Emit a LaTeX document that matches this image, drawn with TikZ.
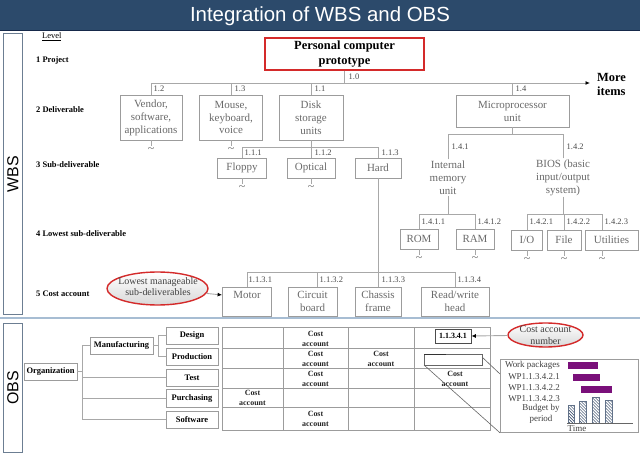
\documentclass[tikz,border=0pt]{standalone}
\usepackage{fontspec}
\setmainfont{Liberation Serif}
\newfontfamily\sansf{Liberation Sans}
\usetikzlibrary{shapes.geometric,arrows.meta,patterns}
\definecolor{titlebg}{HTML}{2C4A6B}
\definecolor{titleline}{HTML}{16294A}
\definecolor{sepblue}{HTML}{A7BDD3}
\definecolor{framecol}{HTML}{6C7E92}
\definecolor{boxgray}{HTML}{9C9C9C}
\definecolor{txtgray}{HTML}{6A6A6A}
\definecolor{linegray}{HTML}{A8A8A8}
\definecolor{lblcol}{HTML}{4A4A4A}
\definecolor{redc}{HTML}{D42A2A}
\definecolor{purp}{HTML}{7A107A}
\definecolor{hatchc}{HTML}{1F3556}
\newcommand\mytilde[2]{\draw[conn] (#1) -- ++(0,6) node[tildest, anchor=center, yshift=-4bp] (#2) {\textasciitilde};}
\begin{document}
\begin{tikzpicture}[x=1bp,y=-1bp,
  wbox/.style={draw=boxgray, line width=0.8bp, text=txtgray, font=\fontsize{11}{13}\selectfont, align=center, inner sep=0},
  lbl/.style={font=\fontsize{8.5}{10}\selectfont, text=lblcol, inner sep=0.5bp, anchor=west},
  lvl/.style={font=\bfseries\fontsize{8.5}{10}\selectfont, anchor=west, inner sep=0},
  conn/.style={draw=linegray, line width=0.9bp},
  tildest/.style={font=\fontsize{12}{12}\selectfont, text=txtgray, inner sep=0},
  tipa/.style={-{Latex[length=4.5bp,width=4bp,color=black]}},
  obox/.style={draw=boxgray, line width=0.8bp, font=\bfseries\fontsize{8.5}{10}\selectfont, inner sep=0, minimum height=17bp},
  ca/.style={font=\bfseries\fontsize{8}{10}\selectfont, align=center, inner sep=0, text=black!85},
  inl/.style={font=\fontsize{9}{11}\selectfont, text=black!75, inner sep=0},
  gridc/.style={draw=boxgray, line width=0.8bp},
  hatchbar/.style={pattern=north west lines, pattern color=hatchc, draw=hatchc!70, line width=0.5bp}
]
\useasboundingbox (0,0) rectangle (640,454);
\fill[white] (0,0) rectangle (640,454);
% title
\node[fill=titlebg, minimum width=640bp, minimum height=30bp, inner sep=0, anchor=north west] (titlebar) at (0,0) {};
\draw[titleline, line width=1.5bp] (titlebar.south west) -- (titlebar.south east);
\node[font=\sansf\fontsize{20.5}{24}\selectfont, text=white, anchor=base, inner sep=0] (title) at (320,21.5) {Integration of WBS and OBS};
% side frames
\node[draw=framecol, line width=0.9bp, minimum width=19bp, minimum height=281bp, inner sep=0, anchor=north west] (wbsframe) at (3,33) {};
\node[rotate=90, font=\sansf\fontsize{16}{18}\selectfont, inner sep=0] (wbstext) at (wbsframe.center) {WBS};
\node[draw=framecol, line width=0.9bp, minimum width=19bp, minimum height=129bp, inner sep=0, anchor=north west] (obsframe) at (3,323) {};
\node[rotate=90, font=\sansf\fontsize{16}{18}\selectfont, inner sep=0] (obstext) at (obsframe.center) {OBS};
\draw[sepblue, line width=2bp] (0,318) -- (640,318);
% level labels
\node[font=\fontsize{8.5}{10}\selectfont, anchor=west, inner sep=0] (lev) at (42,37) {\underline{Level}};
\node[lvl] (lv1) at (36,60) {1 Project};
\node[lvl] (lv2) at (36,110) {2 Deliverable};
\node[lvl] (lv3) at (36,165) {3 Sub-deliverable};
\node[lvl] (lv4) at (36,234) {4 Lowest sub-deliverable};
\node[lvl] (lv5) at (36,294) {5 Cost account};
% root
\node[draw=redc, line width=1.4bp, minimum width=159bp, minimum height=32bp, align=center, inner sep=0, font=\bfseries\fontsize{12.5}{15}\selectfont] (root) at (344.5,54) {Personal computer\\prototype};
% level 2
\node[wbox, minimum width=62bp, minimum height=45bp] (vendor) at (151,117.5) {Vendor,\\software,\\applications};
\node[wbox, minimum width=63bp, minimum height=45bp] (mouse) at (231,117.5) {Mouse,\\keyboard,\\voice};
\node[wbox, minimum width=64bp, minimum height=45bp] (disk) at (311,117.5) {Disk\\storage\\units};
\node[wbox, minimum width=113bp, minimum height=32bp] (micro) at (512.5,111) {Microprocessor\\unit};
\node[font=\bfseries\fontsize{12.5}{15}\selectfont, align=left, anchor=west, inner sep=0] (more) at (597,84.5) {More\\items};
\coordinate (moreend) at (590,83);
\draw[conn] (root.south) -- (root.south |- moreend);
\draw[conn, tipa] (vendor.north |- moreend) -- (moreend);
\draw[conn] (vendor.north) -- (vendor.north |- moreend);
\draw[conn] (mouse.north) -- (mouse.north |- moreend);
\draw[conn] (disk.north) -- (disk.north |- moreend);
\draw[conn] (micro.north) -- (micro.north |- moreend);
\node[lbl] (l10) at (348,77) {1.0};
\node[lbl] (l12) at (153,89) {1.2};
\node[lbl] (l13) at (234,89) {1.3};
\node[lbl] (l11) at (314,89) {1.1};
\node[lbl] (l14) at (515,89) {1.4};
\mytilde{vendor.south}{tv}
\mytilde{mouse.south}{tm}
% level 3 disk
\node[wbox, minimum width=49bp, minimum height=20bp] (floppy) at (242,168) {Floppy};
\node[wbox, minimum width=48bp, minimum height=20bp] (optical) at (311,168) {Optical};
\node[wbox, minimum width=46bp, minimum height=20bp] (hard) at (378,168) {Hard};
\coordinate (dbus) at (0,147);
\draw[conn] (disk.south) -- (optical.north);
\draw[conn] (floppy.north |- dbus) -- (hard.north |- dbus);
\draw[conn] (floppy.north) -- (floppy.north |- dbus);
\draw[conn] (hard.north) -- (hard.north |- dbus);
\node[lbl] (l111) at (244,153) {1.1.1};
\node[lbl] (l112) at (314,153) {1.1.2};
\node[lbl] (l113) at (381,153) {1.1.3};
\mytilde{floppy.south}{tf}
\mytilde{optical.south}{to}
% level 3 micro
\node[text=txtgray, font=\fontsize{11}{13}\selectfont, align=center, inner sep=1bp] (intmem) at (448,177.5) {Internal\\memory\\unit};
\node[text=txtgray, font=\fontsize{11}{13}\selectfont, align=center, inner sep=1bp] (bios) at (563,177.5) {BIOS (basic\\input/output\\system)};
\coordinate (mbus) at (0,134);
\draw[conn] (micro.south) -- (micro.south |- mbus);
\draw[conn] (intmem.north |- mbus) -- (bios.north |- mbus);
\draw[conn] (intmem.north) -- (intmem.north |- mbus);
\draw[conn] (bios.north) -- (bios.north |- mbus);
\node[lbl] (l141) at (451,147) {1.4.1};
\node[lbl] (l142) at (566,147) {1.4.2};
% level 4
\node[wbox, minimum width=38bp, minimum height=20bp] (rom) at (419,239) {ROM};
\node[wbox, minimum width=38bp, minimum height=20bp] (ram) at (475,239) {RAM};
\node[wbox, minimum width=31bp, minimum height=20bp] (io) at (527,240) {I/O};
\node[wbox, minimum width=34bp, minimum height=20bp] (file) at (564,240) {File};
\node[wbox, minimum width=53bp, minimum height=20bp] (util) at (611.5,240) {Utilities};
\coordinate (ibus) at (0,214);
\draw[conn] (intmem.south) -- (intmem.south |- ibus);
\draw[conn] (rom.north |- ibus) -- (ram.north |- ibus);
\draw[conn] (rom.north) -- (rom.north |- ibus);
\draw[conn] (ram.north) -- (ram.north |- ibus);
\draw[conn] (bios.south) -- (bios.south |- ibus);
\draw[conn] (io.north |- ibus) -- ([xshift=-9.5bp]util.north |- ibus);
\draw[conn] (io.north) -- (io.north |- ibus);
\draw[conn] (file.north) -- (file.north |- ibus);
\draw[conn] ([xshift=-9.5bp]util.north) -- ([xshift=-9.5bp]util.north |- ibus);
\node[lbl] (l1411) at (421,222) {1.4.1.1};
\node[lbl] (l1412) at (477,222) {1.4.1.2};
\node[lbl] (l1421) at (529,222) {1.4.2.1};
\node[lbl] (l1422) at (566,222) {1.4.2.2};
\node[lbl] (l1423) at (604,222) {1.4.2.3};
\mytilde{rom.south}{tr1}
\mytilde{ram.south}{tr2}
\mytilde{io.south}{ti}
\mytilde{file.south}{tfi}
\mytilde{[xshift=-9.5bp]util.south}{tu}
% level 5
\node[wbox, minimum width=49bp, minimum height=29bp] (motor) at (247,301.5) {Motor\\\mbox{}};
\node[wbox, minimum width=49bp, minimum height=29bp] (circuit) at (312.5,301.5) {Circuit\\board};
\node[wbox, minimum width=46bp, minimum height=29bp] (chassis) at (378,301.5) {Chassis\\frame};
\node[wbox, minimum width=68bp, minimum height=29bp] (rw) at (455,301.5) {Read/write\\head};
\coordinate (cbus) at (0,272);
\draw[conn] (hard.south) -- (chassis.north);
\draw[conn] (motor.north |- cbus) -- (rw.north |- cbus);
\draw[conn] (motor.north) -- (motor.north |- cbus);
\draw[conn] ([xshift=4.5bp]circuit.north) -- ([xshift=4.5bp]circuit.north |- cbus);
\draw[conn] (rw.north) -- (rw.north |- cbus);
\node[lbl] (l1131) at (248,280) {1.1.3.1};
\node[lbl] (l1132) at (319,280) {1.1.3.2};
\node[lbl] (l1133) at (381,280) {1.1.3.3};
\node[lbl] (l1134) at (457,280) {1.1.3.4};
% ellipse lowest manageable
\node[ellipse, draw=redc, line width=1.4bp, top color=white, bottom color=gray!30, minimum width=101bp, minimum height=33bp, inner sep=0] (lowell) at (157.5,288.5) {};
\node[font=\fontsize{10}{11}\selectfont, text=black!75, align=center, inner sep=0] (lowtxt) at (158,287) {Lowest manageable\\sub-deliverables};
\draw[conn, tipa] (lowell) -- ([yshift=6.5bp]motor.west);
% OBS tree
\node[obox, minimum width=53bp] (org) at (50.5,371.5) {Organization};
\node[obox, minimum width=63bp] (manu) at (121.5,345.5) {Manufacturing};
\node[obox, minimum width=52bp] (design) at (192,335.5) {Design};
\node[obox, minimum width=52bp] (prod) at (192,356.5) {Production};
\node[obox, minimum width=52bp] (test) at (192,377.5) {Test};
\node[obox, minimum width=52bp, minimum height=18bp] (purch) at (192,398) {Purchasing};
\node[obox, minimum width=52bp] (soft) at (192,419.5) {Software};
\coordinate (ov) at (82,0);
\coordinate (mv) at (158,0);
\draw[conn] (org.east) -- (org.east -| ov);
\draw[conn] (manu.west -| ov) -- (soft.west -| ov);
\draw[conn] (manu.west -| ov) -- (manu.west);
\draw[conn] (test.west -| ov) -- (test.west);
\draw[conn] (purch.west -| ov) -- (purch.west);
\draw[conn] (soft.west -| ov) -- (soft.west);
\draw[conn] (manu.east) -- (manu.east -| mv);
\draw[conn] (design.west -| mv) -- (prod.west -| mv);
\draw[conn] (design.west -| mv) -- (design.west);
\draw[conn] (prod.west -| mv) -- (prod.west);
% grid
\draw[gridc] (222,327) rectangle (490,430);
\foreach \gx in {283,348,414} \draw[gridc] (\gx,327) -- (\gx,430);
\foreach \gy in {348,368,388,407} \draw[gridc] (222,\gy) -- (490,\gy);
\node[ca] (ca1) at (315.5,339) {Cost\\account};
\node[ca] (ca2) at (315.5,358.5) {Cost\\account};
\node[ca] (ca3) at (381,358.5) {Cost\\account};
\node[ca] (ca4) at (315.5,378.5) {Cost\\account};
\node[ca] (ca5) at (252.5,398) {Cost\\account};
\node[ca] (ca6) at (315.5,418.5) {Cost\\account};
\node[ca] (ca7) at (455,378.5) {Cost\\account};
\node[draw=black!70, line width=0.7bp, minimum width=36bp, minimum height=14bp, inner sep=0, font=\bfseries\fontsize{8}{10}\selectfont] (acct) at (453,336) {1.1.3.4.1};
\node[ellipse, draw=redc, line width=1.4bp, top color=white, bottom color=gray!30, minimum width=75bp, minimum height=24bp, inner sep=0] (cane) at (545.5,335) {};
\node[font=\fontsize{10}{12}\selectfont, text=black!75, align=center, inner sep=0] (canetxt) at (545.5,335.5) {Cost account\\number};
\draw[conn, tipa] (cane) -- (acct.east);
% callout and inset
\node[draw=boxgray, line width=0.8bp, minimum width=138bp, minimum height=73bp, anchor=north west, inner sep=0] (inset) at (500,359) {};
\draw[draw=black!60, line width=0.6bp] (424,354) rectangle (482,365);
\draw[draw=black!80, line width=1bp] (424,354) -- (446,354);
\draw[draw=black!60, line width=0.6bp] (482,357) -- (500,374);
\draw[draw=black!60, line width=0.6bp] (424,365) -- (inset.south west);
\node[inl, anchor=east] (wp0) at (560,365) {Work packages};
\node[inl, anchor=east] (wp1) at (560,377) {WP1.1.3.4.2.1};
\node[inl, anchor=east] (wp2) at (560,388) {WP1.1.3.4.2.2};
\node[inl, anchor=east] (wp3) at (560,399) {WP1.1.3.4.2.3};
\node[inl, align=center] (budget) at (541,413.5) {Budget by\\period};
\fill[purp] (568,362) rectangle (598,369);
\fill[purp] (573,374) rectangle (600,381);
\fill[purp] (581,386) rectangle (612,393);
\draw[hatchbar] (568,405) rectangle (574,423);
\draw[hatchbar] (579,401) rectangle (586,423);
\draw[hatchbar] (592,397) rectangle (599,423);
\draw[hatchbar] (605,400) rectangle (612,423);
\draw[draw=black!60, line width=0.6bp] (567,423) -- (633,423);
\node[inl] (time) at (577,428.5) {Time};
\end{tikzpicture}
\end{document}
